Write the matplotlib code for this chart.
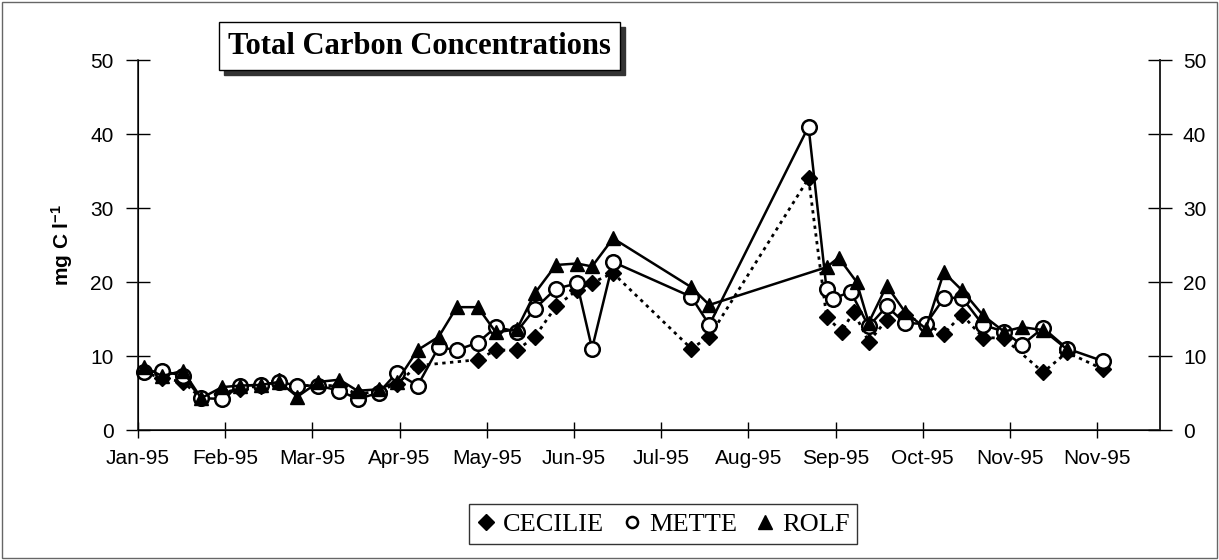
import numpy as np
import matplotlib
matplotlib.use('Agg')
import matplotlib.pyplot as plt
from matplotlib.lines import Line2D
from matplotlib.patches import Rectangle
from matplotlib.font_manager import FontProperties

# ---------------- data (day of year 1995, mg C / l) ----------------
cecilie_day = [17, 23, 30, 36, 43, 49, 56, 62, 68, 75, 82, 88, 95, 101, 108,
               128, 134, 141, 147, 154, 161, 166, 173, 199, 205, 238,
               244, 249, 253, 258, 264, 270, 277, 283, 289, 296, 303, 316, 324, 336]
cecilie_val = [7.8, 7.0, 6.5, 4.3, 5.0, 5.6, 6.0, 6.6, 6.0, 6.0, 6.0, 4.8, 5.3, 6.2, 8.7,
               9.5, 10.8, 10.8, 12.6, 16.7, 18.9, 19.9, 21.2, 11.0, 12.6, 34.0,
               15.3, 13.3, 16.0, 11.9, 14.9, 15.5, 14.3, 13.0, 15.6, 12.5, 12.4, 7.8, 10.5, 8.2]

mette_day = [17, 23, 30, 36, 43, 49, 56, 62, 68, 75, 82, 88, 95, 101, 108,
             115, 121, 128, 134, 141, 147, 154, 161, 166, 173, 199, 205, 238,
             244, 246, 252, 258, 264, 270, 277, 283, 289, 296, 303, 309, 316, 324, 336]
mette_val = [7.8, 8.0, 7.3, 4.3, 4.2, 6.0, 6.1, 6.5, 6.0, 6.0, 5.3, 4.2, 5.0, 7.7, 6.0,
             11.2, 10.8, 11.8, 13.9, 13.3, 16.4, 19.1, 19.8, 11.0, 22.7, 18.0, 14.2, 41.0,
             19.0, 17.7, 18.7, 14.0, 16.7, 14.5, 14.3, 17.8, 17.9, 14.2, 13.3, 11.5, 13.8, 11.0, 9.3]

rolf_day = [17, 23, 30, 36, 43, 49, 56, 62, 68, 75, 82, 88, 95, 101, 108,
            115, 121, 128, 134, 141, 147, 154, 161, 166, 173, 199, 205,
            244, 248, 254, 258, 264, 270, 277, 283, 289, 296, 303, 309, 316, 324]
rolf_val = [8.5, 7.3, 8.0, 4.3, 5.8, 6.0, 6.1, 6.5, 4.5, 6.5, 6.8, 5.3, 5.5, 6.5, 10.8,
            12.6, 16.6, 16.6, 13.2, 13.6, 18.5, 22.3, 22.5, 22.1, 25.9, 19.3, 16.9,
            22.0, 23.3, 20.0, 14.5, 19.5, 16.0, 13.7, 21.3, 18.9, 15.5, 13.3, 13.9, 13.5, 10.9]

tick_labels = ['Jan-95', 'Feb-95', 'Mar-95', 'Apr-95', 'May-95', 'Jun-95',
               'Jul-95', 'Aug-95', 'Sep-95', 'Oct-95', 'Nov-95', 'Nov-95']
y_ticks = [0, 10, 20, 30, 40, 50]
series_names = ['CECILIE', 'METTE', 'ROLF']
title_text = 'Total Carbon Concentrations'

# ---------------- figure ----------------
plt.rcParams['font.family'] = ['Liberation Sans', 'DejaVu Sans']
plt.rcParams['mathtext.fontset'] = 'custom'
plt.rcParams['mathtext.rm'] = 'Liberation Sans:bold'
plt.rcParams['mathtext.bf'] = 'Liberation Sans:bold'
plt.rcParams['mathtext.default'] = 'bf'

W, H = 1219, 560
fig = plt.figure(figsize=(W / 100, H / 100), dpi=100)
fig.patch.set_facecolor('white')

L, R, T, B = 138, 1160, 60, 430
ax = fig.add_axes([L / W, 1 - B / H, (R - L) / W, (B - T) / H])

first_tick = 15
tick_step = 29
tick_pos = first_tick + tick_step * np.arange(len(tick_labels))
ax.set_xlim(first_tick, first_tick + (R - L) * tick_step / 87.2)
ax.set_ylim(0, 50)

ax.plot(cecilie_day, cecilie_val, color='black', lw=2.0, ls=(0, (1.2, 1.6)),
        marker='D', ms=8.5, mfc='black', mec='black', zorder=3, clip_on=False)
ax.plot(mette_day, mette_val, color='black', lw=1.8, ls='-',
        marker='o', ms=10.5, mfc='white', mec='black', mew=1.8, zorder=4, clip_on=False)
ax.plot(rolf_day, rolf_val, color='black', lw=1.8, ls='-',
        marker='^', ms=10.5, mfc='black', mec='black', zorder=5, clip_on=False)

ax.set_xticks(tick_pos)
ax.set_xticklabels(tick_labels)
ax.set_yticks(y_ticks)
ax.tick_params(axis='x', direction='inout', length=12, width=1, pad=8, labelsize=15)
ax.tick_params(axis='y', direction='inout', length=17, width=1, pad=9, labelsize=15)
ax.spines['top'].set_visible(False)
for s in ['left', 'bottom', 'right']:
    ax.spines[s].set_linewidth(1.2)
    ax.spines[s].set_color('#222222')

ax2 = ax.twinx()
ax2.set_ylim(0, 50)
ax2.set_yticks(y_ticks)
ax2.tick_params(axis='y', direction='inout', length=17, width=1, pad=8, labelsize=15)
ax2.spines['top'].set_visible(False)
ax2.spines['right'].set_linewidth(1.2)
ax2.spines['right'].set_color('#222222')

# y label
fig.text(62 / W, 1 - 245 / H, r'mg C l$^{-1}$', rotation=90, ha='center', va='center',
         fontsize=15, fontweight='bold')

# title box with shadow
tfont = dict(family='Liberation Serif', weight='bold', size=22)
tx, ty = 228 / W, 1 - 46 / H
title = fig.text(tx, ty, title_text, ha='left', va='center', fontdict=tfont, color='black',
                 bbox=dict(boxstyle='square,pad=0.3', fc='white', ec='black', lw=1), zorder=10)
fig.canvas.draw()
bb = title.get_bbox_patch().get_window_extent(fig.canvas.get_renderer())
off = 5
fig.patches.append(Rectangle(((bb.x0 + off) / W, (bb.y0 - off) / H), bb.width / W, bb.height / H,
                             transform=fig.transFigure, fc='#333333', ec='#333333', lw=1, zorder=9))

# legend
handles = [Line2D([], [], ls='none', marker='D', ms=8, color='black'),
           Line2D([], [], ls='none', marker='o', ms=8, mfc='white', mec='black', mew=1.8),
           Line2D([], [], ls='none', marker='^', ms=10, color='black')]
leg = fig.legend(handles, series_names, loc='center', bbox_to_anchor=(663 / W, 1 - 524 / H),
                 ncol=3, frameon=True, fancybox=False, handlelength=0.7, handletextpad=0.3,
                 columnspacing=0.7, borderpad=0.3, borderaxespad=0,
                 prop=FontProperties(family='Liberation Serif', size=19))
leg.get_frame().set_edgecolor('black')
leg.get_frame().set_linewidth(1)

# outer border
fig.patches.append(Rectangle((2 / W, 2 / H), (W - 4) / W, (H - 4) / H, transform=fig.transFigure,
                             fill=False, ec='#666666', lw=1))

fig.savefig('out.png', dpi=100, facecolor='white')
